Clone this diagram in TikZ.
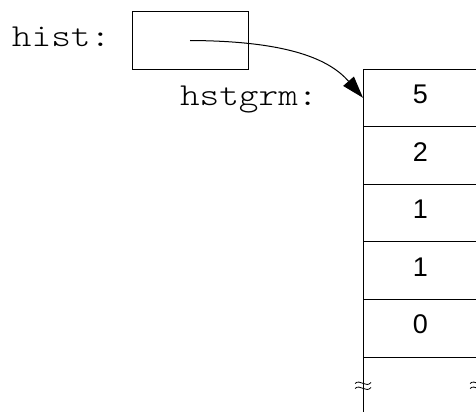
\documentclass[tikz,border=0pt]{standalone}
\usepackage{fontspec}
\usepackage{graphicx}
\newfontfamily\numfont{Liberation Sans}
\newfontfamily\lightmono{lmmonolt10-regular.otf}
\usetikzlibrary{arrows.meta}
\begin{document}
\begin{tikzpicture}[x=1pt,y=-1pt, line width=1pt,
  lbl/.style={inner sep=0pt, outer sep=0pt, anchor=base west, font=\lightmono\fontsize{32}{36}\selectfont},
  ptrbox/.style={draw, minimum width=116pt, minimum height=57pt, inner sep=0pt, outer sep=0pt},
  cell/.style={draw, minimum width=115pt, minimum height=57.6pt, inner sep=0pt, outer sep=0pt,
    anchor=north west, font=\numfont\fontsize{27}{30}\selectfont, text height=18pt, text depth=6.6pt},
  brk/.pic={\draw[line width=0.8pt] (-8,-2) .. controls (-3,-7) and (3,3) .. (8,-3);
            \draw[line width=0.8pt] (-8,3) .. controls (-3,-2) and (3,8) .. (8,2);}]
\useasboundingbox (0,0) rectangle (476,412);
% pointer variable
\node[lbl] (histlbl) at (12,47) {\scalebox{1.17}[1]{hist:}};
\node[ptrbox] (histbox) at (190,40.5) {};
% array
\node[lbl] (hstlbl) at (180,105) {\scalebox{1.17}[1]{hstgrm:}};
\node[cell] (r1) at (363,69) {5};
\node[cell] (r2) at (r1.south west) {2};
\node[cell] (r3) at (r2.south west) {1};
\node[cell] (r4) at (r3.south west) {1};
\node[cell] (r5) at (r4.south west) {0};
\coordinate (bl) at (363,412);
\coordinate (br) at (478,412);
\draw (r5.south west) -- (bl);
\draw (r5.south east) -- (br);
\pic at (363,385.5) {brk};
\pic at (478,385.5) {brk};
% pointer arrow
\draw[-{Triangle[length=22pt,width=14pt]}] (histbox.center) .. controls (290,41) and (330,60) .. (r1.west);
\end{tikzpicture}
\end{document}
